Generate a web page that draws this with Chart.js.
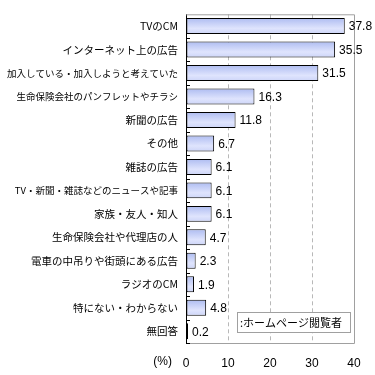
<!DOCTYPE html>
<html>
<head>
<meta charset="utf-8">
<script src="https://cdn.jsdelivr.net/npm/chart.js@4"></script>
<style>
  html, body { margin:0; padding:0; background:#fff; }
  #wrap { width:375px; height:375px; }
</style>
</head>
<body>
<div id="wrap"><canvas id="adChart" width="375" height="375"></canvas></div>
<script>
const ctx = document.getElementById("adChart").getContext("2d");

const labels = [
  "TVのCM",
  "インターネット上の広告",
  "加入している・加入しようと考えていた",
  "生命保険会社のパンフレットやチラシ",
  "新聞の広告",
  "その他",
  "雑誌の広告",
  "TV・新聞・雑誌などのニュースや記事",
  "家族・友人・知人",
  "生命保険会社や代理店の人",
  "電車の中吊りや街頭にある広告",
  "ラジオのCM",
  "特にない・わからない",
  "無回答"
];
const values = [37.8, 35.5, 31.5, 16.3, 11.8, 6.7, 6.1, 6.1, 6.1, 4.7, 2.3, 1.9, 4.8, 0.2];
const xTicks = [0, 10, 20, 30, 40];
const seriesName = "ホームページ閲覧者";

const JP = "'Noto Sans CJK JP', sans-serif";
const NUM = "'Liberation Sans', Arial, sans-serif";
const BAR_PCT = 0.68;

/* ---------- bar gradient, one band per bar ---------- */
let grad = null;
function barFill(c) {
  const chart = c.chart;
  const area = chart.chartArea;
  if (!area) return "#c4cdf6";
  if (grad) return grad;
  const y = chart.scales.y;
  const H = area.bottom - area.top;
  const half = (H / labels.length) * BAR_PCT / 2;
  const g = chart.ctx.createLinearGradient(0, area.top, 0, area.bottom);
  labels.forEach((_, i) => {
    const cy = y.getPixelForValue(i);
    const a = Math.max(0, (cy - half - area.top) / H);
    const b = Math.min(1, (cy + half - area.top) / H);
    g.addColorStop(a, "#aebcf1");
    g.addColorStop(a + (b - a) * 0.65, "#dfe4fd");
    g.addColorStop(b, "#cdd5f8");
  });
  grad = g;
  return g;
}

/* ---------- frame, ticks, value labels, legend ---------- */
const extras = {
  id: "extras",
  beforeDatasetsDraw(chart) {
    const { ctx, chartArea: a } = chart;
    ctx.save();
    ctx.strokeStyle = "#a0a0a0";
    ctx.lineWidth = 1;
    ctx.beginPath();
    ctx.moveTo(a.left, a.top + 0.5);
    ctx.lineTo(a.right + 0.5, a.top + 0.5);
    ctx.lineTo(a.right + 0.5, a.bottom + 0.5);
    ctx.lineTo(a.left, a.bottom + 0.5);
    ctx.stroke();
    ctx.restore();
  },
  afterDatasetsDraw(chart) {
    const { ctx, chartArea: a } = chart;
    const x = chart.scales.x;
    const y = chart.scales.y;
    const step = (a.bottom - a.top) / labels.length;
    ctx.save();

    // small ticks on the category axis, pointing inward
    ctx.strokeStyle = "#000";
    ctx.lineWidth = 1;
    ctx.beginPath();
    for (let i = 0; i < labels.length; i++) {
      const yy = Math.round(y.getPixelForValue(i) + step / 2) + 0.5;
      ctx.moveTo(a.left, yy);
      ctx.lineTo(a.left + 4, yy);
    }
    ctx.stroke();

    // value labels
    ctx.fillStyle = "#000";
    ctx.font = "12px " + NUM;
    ctx.textBaseline = "middle";
    ctx.textAlign = "left";
    values.forEach((v, i) => {
      ctx.fillText(v.toFixed(1), Math.max(x.getPixelForValue(v), a.left + 2) + 4, y.getPixelForValue(i) + 1);
    });

    // legend box
    const bx = a.right - 117, by = a.bottom - 31, bw = 113, bh = 20;
    ctx.fillStyle = "#fff";
    ctx.fillRect(bx, by, bw, bh);
    ctx.strokeStyle = "#a0a0a0";
    ctx.strokeRect(bx + 0.5, by + 0.5, bw, bh);
    ctx.fillStyle = "#000";
    ctx.font = "11px " + JP;
    ctx.fillText(":" + seriesName, bx + 3, by + bh / 2 + 1);

    // unit label
    ctx.font = "12px " + NUM;
    ctx.textAlign = "right";
    ctx.fillText("(%)", a.left - 14, a.bottom + 19);
    ctx.restore();
  }
};

const chart = new Chart(ctx, {
  type: "bar",
  data: {
    labels,
    datasets: [{
      label: seriesName,
      data: values,
      backgroundColor: barFill,
      borderColor: "#000",
      borderWidth: 1,
      borderSkipped: false,
      minBarLength: 2,
      barPercentage: BAR_PCT,
      categoryPercentage: 1
    }]
  },
  options: {
    indexAxis: "y",
    responsive: false,
    animation: false,
    layout: { padding: { top: 7, right: 21, left: 0, bottom: 0 } },
    plugins: {
      legend: { display: false },
      tooltip: { enabled: false }
    },
    scales: {
      x: {
        min: 0,
        max: 40,
        afterFit: s => { s.height = 32; },
        afterBuildTicks: s => { s.ticks = xTicks.map(v => ({ value: v })); },
        grid: {
          drawTicks: false,
          color: c => (c.tick && (c.tick.value === 0 || c.tick.value === 40)) ? "rgba(0,0,0,0)" : "#b8b8b8",
          lineWidth: 1
        },
        border: { display: false, dash: [4, 3] },
        ticks: { color: "#000", padding: 13, font: { family: NUM, size: 12 } }
      },
      y: {
        afterFit: s => { s.width = 186; },
        grid: { display: false, drawTicks: false },
        border: { display: true, color: "#000", width: 1 },
        ticks: {
          color: "#000",
          padding: 8,
          autoSkip: false,
          font: c => ({ family: JP, size: (labels[c.index] || "").length >= 17 ? 9.5 : 10.5 })
        }
      }
    }
  },
  plugins: [extras]
});
</script>
</body>
</html>
